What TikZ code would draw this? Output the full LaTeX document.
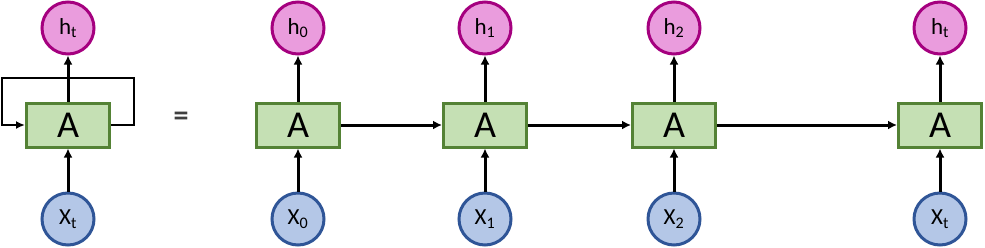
\documentclass[tikz,border=0pt]{standalone}
\usepackage{fontspec}
\setmainfont{Carlito}
\usetikzlibrary{arrows.meta}
\definecolor{gfill}{HTML}{C5E0B4}
\definecolor{gdraw}{HTML}{548235}
\definecolor{pfill}{HTML}{EA9CDD}
\definecolor{pdraw}{HTML}{A5007F}
\definecolor{bfill}{HTML}{B4C7E7}
\definecolor{bdraw}{HTML}{2F5597}
\begin{document}
\begin{tikzpicture}[x=1pt,y=-1pt,
  cell/.style={draw=gdraw,fill=gfill,line width=3pt,minimum width=83pt,minimum height=44pt,inner sep=0pt,font=\fontsize{38}{38}\selectfont},
  hcirc/.style={circle,draw=pdraw,fill=pfill,line width=3pt,minimum size=52pt,inner sep=0pt,font=\fontsize{23}{23}\selectfont},
  xcirc/.style={circle,draw=bdraw,fill=bfill,line width=3pt,minimum size=52pt,inner sep=0pt,font=\fontsize{23}{23}\selectfont},
  arr/.style={line width=3pt,-{Latex[length=9pt,width=9pt]}},
  loopl/.style={line width=2pt,-{Latex[length=9pt,width=8pt]}}]
\useasboundingbox (0,0) rectangle (985,247);
% left folded cell
\node[cell] (A) at (68,125) {A};
\node[hcirc] (H) at (68,28) {h\textsubscript{t}};
\node[xcirc] (X) at (68,219) {X\textsubscript{t}};
\draw[loopl] (A.east) -- (134,125) -- (134,78) -- (2,78) -- (2,125) -- (A.west);
\draw[arr] (X) -- (A);
\draw[arr] (A) -- (H);
\node[font=\fontsize{30}{30}\selectfont\bfseries,text=black!75] (eq) at (181,119) {=};
% unrolled
\foreach \i/\x/\s in {0/298/0,1/485/1,2/674/2,3/940/t}{
  \node[cell] (A\i) at (\x,125) {A};
  \node[hcirc] (H\i) at (\x,28) {h\textsubscript{\s}};
  \node[xcirc] (X\i) at (\x,219) {X\textsubscript{\s}};
  \draw[arr] (X\i) -- (A\i);
  \draw[arr] (A\i) -- (H\i);
}
\draw[arr] (A0) -- (A1);
\draw[arr] (A1) -- (A2);
\draw[arr] (A2) -- (A3);
\end{tikzpicture}
\end{document}
